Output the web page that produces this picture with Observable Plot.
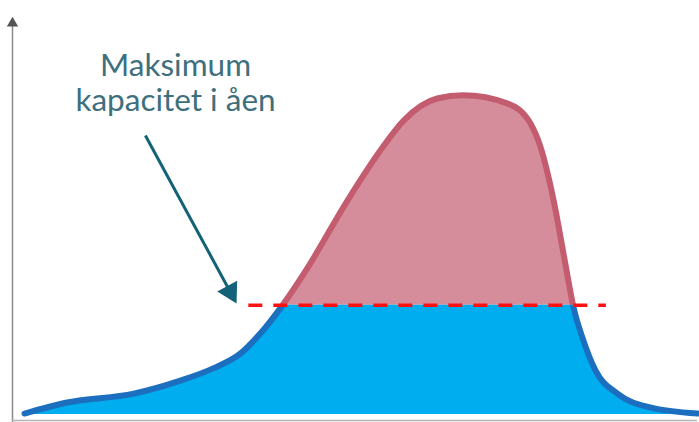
<!DOCTYPE html>
<html>
<head>
<meta charset="utf-8">
<script src="https://cdn.jsdelivr.net/npm/d3@7"></script>
<script src="https://cdn.jsdelivr.net/npm/@observablehq/plot@0.6"></script>
<style>
  html, body { margin: 0; padding: 0; background: #fff; }
  #chart svg { display: block; }
</style>
</head>
<body>
<div id="chart"></div>
<script>
// Time (arbitrary units) and river flow (arbitrary units)
const time = [1.75, 8.0, 17.7, 24.5, 29.3, 33.3, 36.2, 39.4, 43.1, 48.9, 53.7, 57.1, 62.0, 65.8, 72.3, 75.6, 77.1, 79.0, 80.7, 81.9, 83.2, 85.1, 88.3, 93.1, 100];
const flow = [0.25, 3.05, 5.3, 8.6, 11.7, 15.5, 20.6, 27.7, 37.3, 54.3, 67.0, 74.6, 80.2, 81.0, 78.9, 73.9, 67.8, 54.3, 38.3, 27.2, 19.5, 11.2, 5.3, 1.8, 0.25];
const capacity = 27.7;
const labelLines = ["Maksimum", "kapacitet i åen"];

const data = time.map((t, i) => ({t, q: flow[i]}));

const W = 699, H = 422;
const curve = "monotone-x";
const plot = Plot.plot({
  width: W, height: H,
  marginLeft: 12, marginRight: 2, marginTop: 20, marginBottom: 8,
  x: {domain: [0, 100], axis: null},
  y: {domain: [0, 100], axis: null},
  marks: [
    // axes
    Plot.ruleX([0], {y1: -2, y2: 98.5, stroke: "#8a8a8a", strokeWidth: 1.5, clip: false}),
    Plot.ruleY([-1.5], {x1: 0, x2: 100, stroke: "#b5b5b5", strokeWidth: 1.5, clip: false}),
    Plot.dot([{t: 0, q: 99.3}], {x: "t", y: "q", symbol: "triangle", r: 4.2, fill: "#555", stroke: "none"}),
    // upper (above capacity) parts
    Plot.areaY(data, {x: "t", y: "q", fill: "#D68D9B", curve}),
    Plot.lineY(data, {x: "t", y: "q", stroke: "#C45C70", strokeWidth: 6, curve, strokeLinecap: "round"}),
    // lower (below capacity) parts
    Plot.areaY(data, {x: "t", y: "q", fill: "#00AEEF", curve}),
    Plot.lineY(data, {x: "t", y: "q", stroke: "#1C6EBE", strokeWidth: 6, curve, strokeLinecap: "round"}),
    // capacity line
    Plot.ruleY([capacity], {x1: 34.5, x2: 86.7, stroke: "#FF1010", strokeWidth: 3.5, strokeDasharray: "14,11"}),
    // annotation
    Plot.text([labelLines.join("\n")], {x: 23.8, y: 84.3, textAnchor: "middle", lineAnchor: "middle", lineHeight: 1.1,
      fontSize: 31.5, fontFamily: "Lato, 'Open Sans', sans-serif", fill: "#3E6F7C"}),
    Plot.link([{x1: 19.4, y1: 70.8, x2: 31.8, y2: 31.1}], {x1: "x1", y1: "y1", x2: "x2", y2: "y2", stroke: "#136277", strokeWidth: 3}),
    Plot.dot([{t: 31.8, q: 31.1}], {x: "t", y: "q", symbol: "triangle", r: 8.4, rotate: 151.6, fill: "#136277", stroke: "none"})
  ]
});

// split the filled curve at the capacity level using the plot's own y scale
const capPx = plot.scale("y").apply(capacity);
const svg = d3.select(plot);
const defs = svg.insert("defs", ":first-child");
defs.append("clipPath").attr("id", "clip-upper")
  .append("rect").attr("x", -10).attr("y", -10).attr("width", W + 20).attr("height", capPx + 10);
defs.append("clipPath").attr("id", "clip-lower")
  .append("rect").attr("x", -10).attr("y", capPx).attr("width", W + 20).attr("height", H - capPx + 20);
const areas = plot.querySelectorAll('g[aria-label="area"]');
const lines = plot.querySelectorAll('g[aria-label="line"]');
areas[0].setAttribute("clip-path", "url(#clip-upper)");
lines[0].setAttribute("clip-path", "url(#clip-upper)");
areas[1].setAttribute("clip-path", "url(#clip-lower)");
lines[1].setAttribute("clip-path", "url(#clip-lower)");

document.getElementById("chart").appendChild(plot);
</script>
</body>
</html>
